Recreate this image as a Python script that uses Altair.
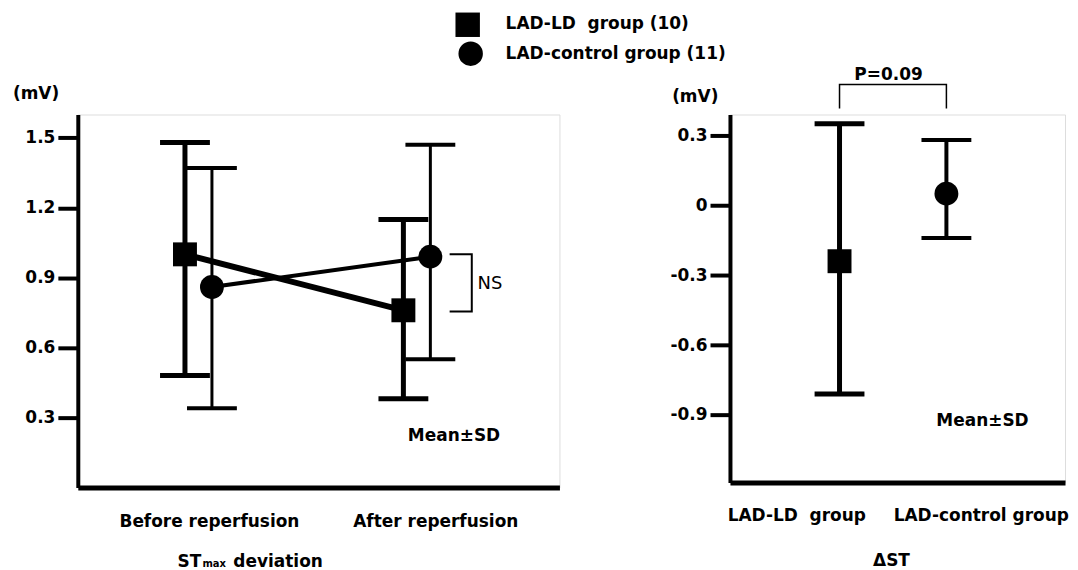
import altair as alt
import pandas as pd

# ---------------- data ----------------
phases = ["Before reperfusion", "After reperfusion"]
ld_mean = [1.00, 0.76]
ld_low = [0.48, 0.38]
ld_high = [1.48, 1.15]
ctl_mean = [0.86, 0.99]
ctl_low = [0.34, 0.55]
ctl_high = [1.37, 1.47]
left_ticks = [0.3, 0.6, 0.9, 1.2, 1.5]

delta_groups = ["LAD-LD\u00a0\u00a0group", "LAD-control group"]
delta_mean = [-0.24, 0.05]
delta_low = [-0.81, -0.14]
delta_high = [0.35, 0.28]
right_ticks = [-0.9, -0.6, -0.3, 0.0, 0.3]

legend_labels = ["LAD-LD\u00a0\u00a0group (10)", "LAD-control group (11)"]
ns_bracket = [1.00, 0.755]
p_label = "P=0.09"
unit_label = "(mV)"
sd_label = "Mean\u00b1SD"

# ---------------- layout ----------------
FONT = "DejaVu Sans"
FS = 17
LW, LH = 483, 374
RW, RH = 336, 369
L_YDOM = [0, 1.6]
R_YDOM = [-1.19, 0.39]
phase_pos = [25.05, 70.4]
grp_off = 2.8
delta_pos = [32.7, 64.6]


def make_enc(ydom, ticks, label_expr=None):
    xaxis = alt.Axis(labels=False, ticks=False, grid=False, title=None,
                     domainWidth=5, domainColor="black")
    yargs = dict(values=ticks, grid=False, title=None, tickSize=20, tickWidth=4,
                 tickColor="black", domainWidth=4, domainColor="black",
                 labelFont=FONT, labelFontSize=FS, labelFontWeight="bold",
                 labelColor="black", labelPadding=3)
    if label_expr:
        yargs["labelExpr"] = label_expr
    else:
        yargs["format"] = ".1f"
    yaxis = alt.Axis(**yargs)

    def X(field="x"):
        return alt.X(f"{field}:Q", scale=alt.Scale(domain=[0, 100], nice=False, zero=False), axis=xaxis)

    def Y(field="y"):
        return alt.Y(f"{field}:Q", scale=alt.Scale(domain=ydom, nice=False, zero=False), axis=yaxis)
    return X, Y


def group_layers(df, X, Y, shape, size, bar_w, cap_w, line_w=None):
    layers = [
        alt.Chart(df).mark_rule(color="black", strokeWidth=bar_w, opacity=1).encode(x=X("x"), y=Y("lo"), y2="hi"),
        alt.Chart(df).mark_tick(color="black", orient="horizontal", size=50, thickness=cap_w, opacity=1).encode(x=X("x"), y=Y("lo")),
        alt.Chart(df).mark_tick(color="black", orient="horizontal", size=50, thickness=cap_w, opacity=1).encode(x=X("x"), y=Y("hi")),
    ]
    line = None
    if line_w:
        line = alt.Chart(df).mark_line(color="black", strokeWidth=line_w, opacity=1).encode(x=X("x"), y=Y("y"))
    pts = alt.Chart(df).mark_point(shape=shape, size=size, filled=True, color="black", opacity=1).encode(x=X("x"), y=Y("y"))
    return layers, line, pts


def text_layer(X, Y, xs, ys, texts, align="left", baseline="middle", size=FS, weight="bold"):
    df = pd.DataFrame({"x": xs, "y": ys, "t": texts})
    return alt.Chart(df).mark_text(align=align, baseline=baseline, font=FONT, fontSize=size,
                                   fontWeight=weight, color="black").encode(x=X("x"), y=Y("y"), text="t:N")


# ---------------- left panel ----------------
LX, LY = make_enc(L_YDOM, left_ticks)
ld = pd.DataFrame({"x": [p - grp_off for p in phase_pos], "y": ld_mean, "lo": ld_low, "hi": ld_high})
ctl = pd.DataFrame({"x": [p + grp_off for p in phase_pos], "y": ctl_mean, "lo": ctl_low, "hi": ctl_high})

ld_err, ld_line, ld_pts = group_layers(ld, LX, LY, "square", 576, 5, 5, 6)
ctl_err, ctl_line, ctl_pts = group_layers(ctl, LX, LY, "circle", 573, 3, 4, 4)

ns_df = pd.DataFrame({"x": [77.2, 81.8, 81.8, 77.2], "y": [ns_bracket[0], ns_bracket[0], ns_bracket[1], ns_bracket[1]], "o": [0, 1, 2, 3]})
ns_line = alt.Chart(ns_df).mark_line(color="black", strokeWidth=2).encode(x=LX("x"), y=LY("y"), order="o:Q")

leg_df = pd.DataFrame({"x": [80.95], "y": [1.985]})
leg_sq = alt.Chart(leg_df).mark_point(shape="square", size=600, filled=True, color="black", opacity=1).encode(x=LX("x"), y=LY("y"))
leg_df2 = pd.DataFrame({"x": [81.57], "y": [1.861]})
leg_ci = alt.Chart(leg_df2).mark_point(shape="circle", size=600, filled=True, color="black", opacity=1).encode(x=LX("x"), y=LY("y"))

left_texts = [
    text_layer(LX, LY, [-13.46], [1.686], [unit_label]),
    text_layer(LX, LY, [88.82, 88.82], [1.989, 1.861], legend_labels),
    text_layer(LX, LY, [83.0], [0.873], ["NS"], weight="normal", size=18),
    text_layer(LX, LY, [68.53], [0.2225], [sd_label]),
    text_layer(LX, LY, [27.33, 74.33], [-0.171, -0.171], phases, align="center", baseline="alphabetic"),
    text_layer(LX, LY, [20.7], [-0.342], ["ST"], baseline="alphabetic"),
    text_layer(LX, LY, [25.88], [-0.342], ["max"], baseline="alphabetic", size=10),
    text_layer(LX, LY, [32.3], [-0.342], ["deviation"], baseline="alphabetic"),
]

left = alt.layer(
    *ld_err, *ctl_err, ld_line, ctl_line, ns_line, ld_pts, ctl_pts, leg_sq, leg_ci, *left_texts
).properties(width=LW, height=LH)

# ---------------- right panel ----------------
lab_expr = "datum.value == 0 ? '0\u2008\u2007' : (datum.value < 0 ? '-' + format(-datum.value, '.1f') : format(datum.value, '.1f'))"
RX, RY = make_enc(R_YDOM, right_ticks, lab_expr)
dl = pd.DataFrame({"x": [delta_pos[0]], "y": [delta_mean[0]], "lo": [delta_low[0]], "hi": [delta_high[0]]})
dc = pd.DataFrame({"x": [delta_pos[1]], "y": [delta_mean[1]], "lo": [delta_low[1]], "hi": [delta_high[1]]})
dl_err, _, dl_pts = group_layers(dl, RX, RY, "square", 576, 5, 5)
dc_err, _, dc_pts = group_layers(dc, RX, RY, "circle", 573, 4, 4)

p_df = pd.DataFrame({"x": [delta_pos[0], delta_pos[0], delta_pos[1], delta_pos[1]], "y": [0.416, 0.519, 0.519, 0.416], "o": [0, 1, 2, 3]})
p_line = alt.Chart(p_df).mark_line(color="black", strokeWidth=1.5).encode(x=RX("x"), y=RY("y"), order="o:Q")

right_texts = [
    text_layer(RX, RY, [-17.26], [0.463], [unit_label]),
    text_layer(RX, RY, [47.32], [0.559], [p_label], align="center"),
    text_layer(RX, RY, [61.6], [-0.925], [sd_label]),
    text_layer(RX, RY, [19.94, 75.0], [-1.357, -1.357], delta_groups, align="center", baseline="alphabetic"),
    text_layer(RX, RY, [48.2], [-1.55], ["\u0394ST"], align="center", baseline="alphabetic"),
]

right = alt.layer(*dl_err, *dc_err, p_line, dl_pts, dc_pts, *right_texts).properties(width=RW, height=RH)

chart = alt.hconcat(left, right, spacing=171, bounds="flush").properties(
    padding={"left": 4, "top": 3, "right": 0, "bottom": 0},
    background="white"
).configure_view(stroke=None, fill="white").configure(font=FONT)

chart.save("out.html", embed_options={"renderer": "svg", "actions": False})
